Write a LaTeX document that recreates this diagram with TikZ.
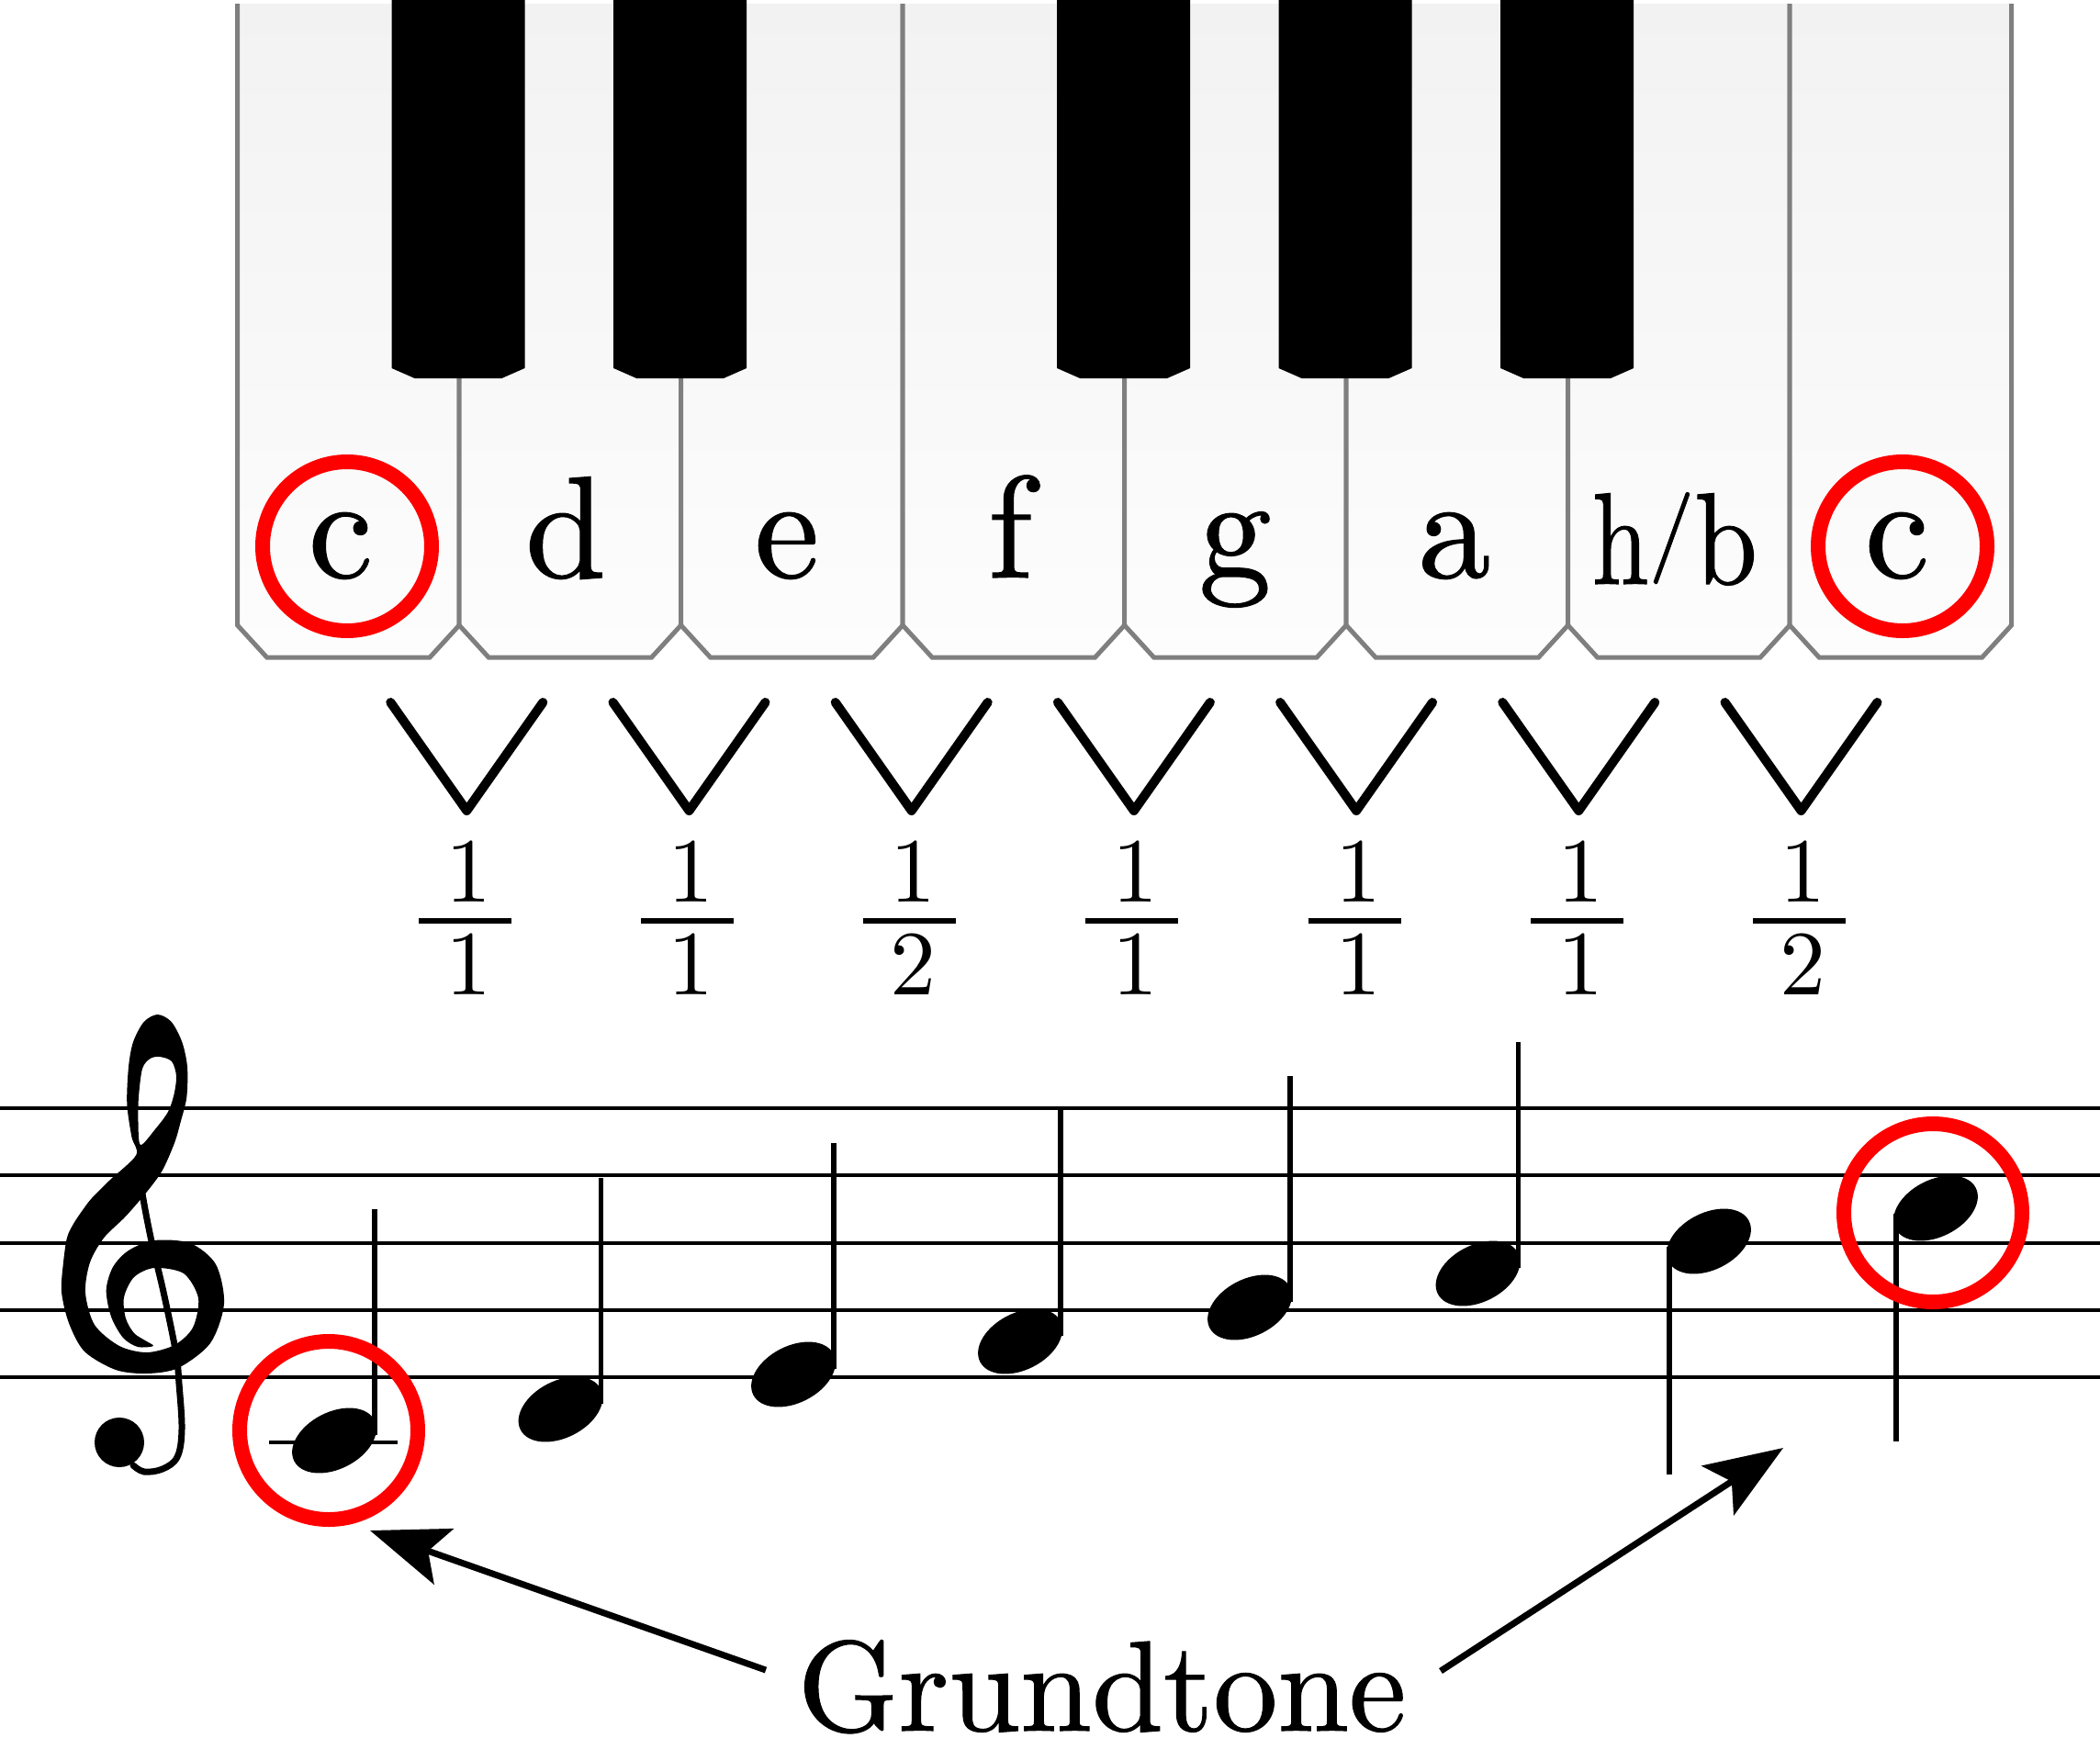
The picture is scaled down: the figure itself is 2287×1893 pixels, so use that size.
\documentclass[tikz,border=0pt]{standalone}
\usepackage{fontspec}
\setmainfont{lmroman10-regular.otf}
\newfontface\heavylm{lmroman10-regular.otf}[FakeBold=0.8]
\usetikzlibrary{arrows.meta}
\definecolor{keygray}{HTML}{7F7F7F}
\definecolor{keytop}{HTML}{F2F2F2}
\definecolor{keybot}{HTML}{FDFDFD}
\definecolor{ringred}{HTML}{FF0000}
\tikzset{
  keyedge/.style={draw=keygray, line width=5pt, line join=miter},
  blackkey/.style={fill=black},
  vstroke/.style={line width=10pt, line cap=round, line join=round},
  fracbar/.style={line width=5.5pt},
  staffline/.style={line width=4pt},
  stemline/.style={line width=5.5pt},
  ringmark/.style={draw=ringred, line width=16pt},
  grarrow/.style={line width=7pt, -{Stealth[length=85pt,width=64pt,inset=18pt]}},
  keylabel/.style={anchor=base, inner sep=0pt, font=\heavylm\fontsize{158}{160}\selectfont},
  fracdigit/.style={anchor=base, inner sep=0pt, font=\fontsize{100}{100}\selectfont},
  bigword/.style={anchor=base, inner sep=0pt, font=\heavylm\fontsize{140}{140}\selectfont},
}
\begin{document}
\begin{tikzpicture}[x=1pt,y=-1pt]
\fill[white] (0,0) rectangle (2287,1893);
\useasboundingbox (0,0) rectangle (2287,1893);

% white keys
\foreach \k in {0,...,7} {
  \pgfmathsetmacro\L{258.6+241.5*\k}
  \pgfmathsetmacro\R{\L+241.5}
  \shade[top color=keytop,bottom color=keybot] (\L,4) -- (\L,681) -- (\L+32,716) -- (\R-32,716) -- (\R,681) -- (\R,4) -- cycle;
  \draw[keyedge] (\L,4) -- (\L,681) -- (\L+32,716) -- (\R-32,716) -- (\R,681) -- (\R,4);
}
% black keys
\foreach \c in {499,740.6,1223.6,1465,1706.6} {
  \fill[blackkey] (\c-72.5,0) -- (\c-72.5,401) -- (\c-47.5,412) -- (\c+47.5,412) -- (\c+72.5,401) -- (\c+72.5,0) -- cycle;
}
% key labels
\node[keylabel] (kc1) at (371,629) {c};
\node[keylabel] (kd) at (616,629) {d};
\node[keylabel] (ke) at (857,629) {e};
\node[keylabel] (kf) at (1100,629) {f};
\node[keylabel] (kg) at (1345,629) {g};
\node[keylabel] (ka) at (1584,629) {a};
\node[keylabel] (kh) at (1824,636) {\scalebox{0.7}[0.9]{h}\raisebox{25pt}{\scalebox{0.63}{/}}\scalebox{0.78}[0.9]{b}};
\node[keylabel] (kc2) at (2066,629) {c};
\draw[ringmark] (378,595) circle (92);
\draw[ringmark] (2072,595) circle (92);

% V marks and fractions
\foreach \k/\den in {0/1,1/1,2/2,3/1,4/1,5/1,6/2} {
  \pgfmathsetmacro\v{508.3+242.2*\k}
  \draw[vstroke] (\v-83,765) -- (\v,883) -- (\v+83,765);
  \node[fracdigit] (num\k) at (\v+2,982) {1};
  \draw[fracbar] (\v-52.5,1003) -- (\v+48.5,1003);
  \node[fracdigit] (den\k) at (\v+2,1083) {\den};
}

% treble clef
\fill[even odd rule]
  plot[smooth cycle, tension=0.5] coordinates {
   (171.7,1105) (186.7,1113) (198.3,1135) (204,1162) (203.3,1195) (196.7,1222)
   (190,1245) (176.7,1275) (160,1298) (136.7,1325) (113.3,1348) (98,1375)
   (93,1408) (103,1443) (130,1466) (160,1473) (190,1465) (210,1446)
   (216,1414) (200,1387) (168,1381) (146,1391) (135,1413) (137,1436)
   (146,1452) (158,1460) (167,1466) (150,1467) (134,1457) (121,1434)
   (115.7,1405) (123,1380) (140,1362) (168,1351) (207,1354) (235,1377)
   (244,1420) (229,1463) (194,1490) (160,1496) (126,1492) (92,1472)
   (75,1441) (67,1407) (69,1375) (73,1348) (80,1333) (90,1318)
   (100,1305) (120,1285) (148.3,1258) (143.3,1238) (138.3,1202) (140,1162)
   (145,1135) (156.7,1113)}
  plot[smooth cycle, tension=0.5] coordinates {
   (174,1151) (187,1156) (192,1172) (189.5,1192) (183,1211) (169,1230)
   (153,1247) (150.5,1222) (151,1195) (155,1164) (163.5,1153)};
\draw[line width=7pt, line cap=round] plot[smooth, tension=0.6] coordinates {
   (150,1262) (155,1300) (165,1352) (178,1407) (191.5,1473) (195,1507)
   (198,1557) (193,1587) (177,1600) (157,1603) (145,1596)};
\fill (130,1571) circle (27);

% staff
\foreach \y in {1207,1280,1353.5,1426.5,1499.5} {
  \draw[staffline] (0,\y) -- (2287,\y);
}
\draw[staffline] (293,1570.5) -- (433,1570.5);

% notes with stems up
\foreach \x/\y in {364/1569,610.5/1535,864/1497,1111/1461,1361/1424,1609.5/1387} {
  \fill[rotate around={27:(\x,\y)}] (\x,\y) ellipse [x radius=49, y radius=31];
  \draw[stemline] (\x+44,\y-6) -- (\x+44,\y-252);
}
% notes with stems down
\foreach \x/\y in {1861/1352,2108/1316} {
  \fill[rotate around={27:(\x,\y)}] (\x,\y) ellipse [x radius=49, y radius=31];
  \draw[stemline] (\x-43,\y+6) -- (\x-43,\y+254);
}
\draw[ringmark] (358,1558) circle (97);
\draw[ringmark] (2105,1321) circle (97);

% label and arrows
\node[bigword] (grund) at (1200,1885) {Grundtone};
\coordinate (gs1) at (834,1819);
\coordinate (gt1) at (403,1667);
\coordinate (gs2) at (1569,1820);
\coordinate (gt2) at (1942,1577);
\draw[grarrow] (gs1) -- (gt1);
\draw[grarrow] (gs2) -- (gt2);
\end{tikzpicture}
\end{document}
